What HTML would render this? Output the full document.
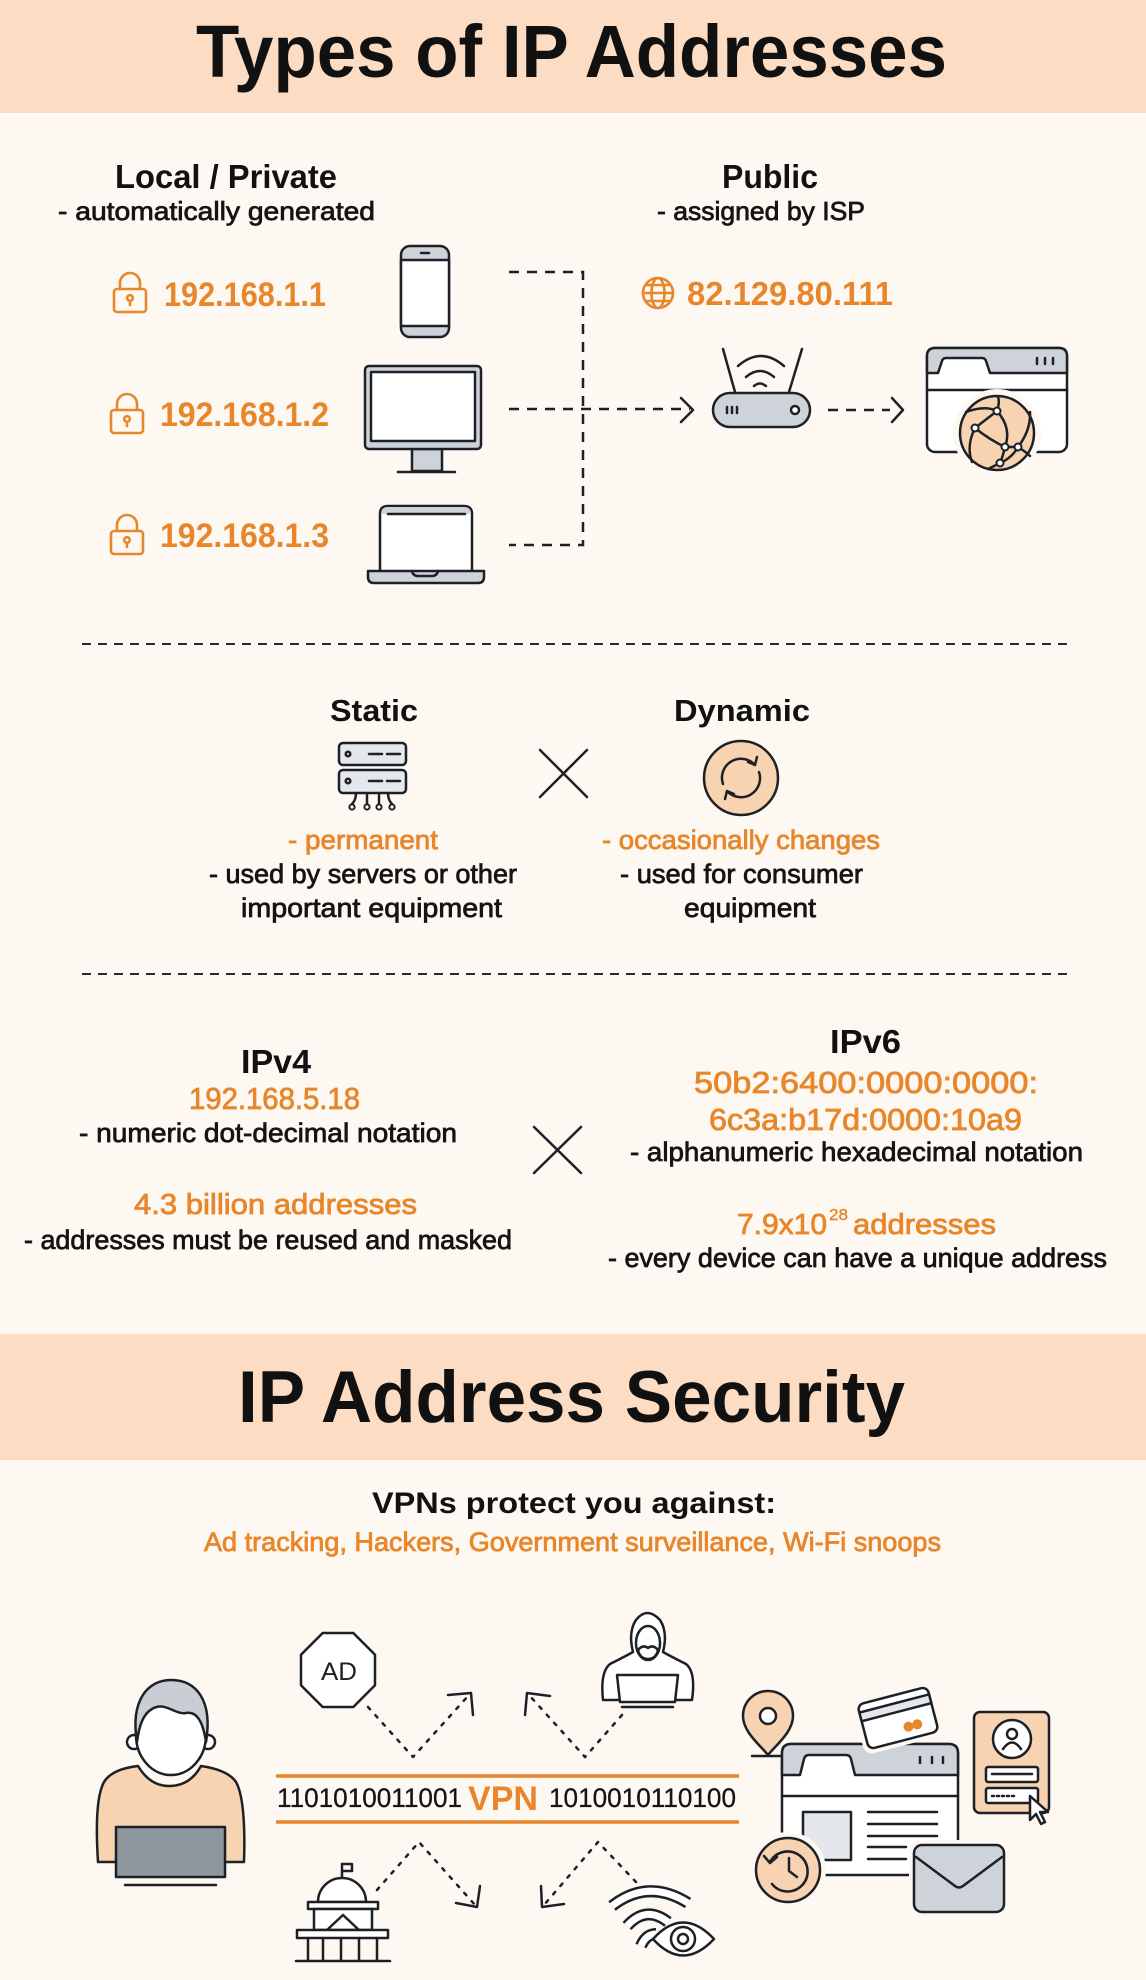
<!DOCTYPE html>
<html><head><meta charset="utf-8"><style>
html,body{margin:0;padding:0;background:#FDF8F2;}
svg{display:block;}
text{font-family:"Liberation Sans",Arial,sans-serif;}
.b{font-weight:700;fill:#111;}
.ob{font-weight:700;fill:#E8862B;}
.m{font-weight:400;fill:#141414;stroke:#141414;stroke-width:0.75;}
.om{font-weight:400;fill:#E8862B;stroke:#E8862B;stroke-width:0.8;}
.ln{fill:none;stroke:#1d2126;stroke-width:2.5;stroke-linecap:round;stroke-linejoin:round;}
.dk{stroke:#1d2126;stroke-width:2.5;stroke-linejoin:round;}
</style></head><body>
<svg width="1146" height="1980" viewBox="0 0 1146 1980" xmlns="http://www.w3.org/2000/svg">
<rect x="0" y="0" width="1146" height="1980" fill="#FDF8F2"/>
<!-- Header 1 -->
<rect x="0" y="0" width="1146" height="113" fill="#FCDCC2"/>
<text class="b" x="196" y="77" font-size="74" textLength="751" lengthAdjust="spacingAndGlyphs">Types of IP Addresses</text>

<!-- Local / Private -->
<text class="b" x="115" y="188" font-size="33" textLength="222" lengthAdjust="spacingAndGlyphs">Local / Private</text>
<text class="m" x="58" y="220" font-size="26" textLength="317" lengthAdjust="spacingAndGlyphs">- automatically generated</text>
<text class="b" x="722" y="188" font-size="33" textLength="96" lengthAdjust="spacingAndGlyphs">Public</text>
<text class="m" x="657" y="220" font-size="26" textLength="208" lengthAdjust="spacingAndGlyphs">- assigned by ISP</text>

<!-- locks -->
<g fill="none" stroke="#E8862B" stroke-width="2.6" stroke-linecap="round" stroke-linejoin="round">
 <g transform="translate(114,273)"><rect x="0" y="16" width="32" height="23" rx="3"/><path d="M6 16 V10 a10 10 0 0 1 20 0 V16"/><circle cx="16" cy="25" r="2.8"/><path d="M16 28 V32"/></g>
 <g transform="translate(111,394)"><rect x="0" y="16" width="32" height="23" rx="3"/><path d="M6 16 V10 a10 10 0 0 1 20 0 V16"/><circle cx="16" cy="25" r="2.8"/><path d="M16 28 V32"/></g>
 <g transform="translate(111,515)"><rect x="0" y="16" width="32" height="23" rx="3"/><path d="M6 16 V10 a10 10 0 0 1 20 0 V16"/><circle cx="16" cy="25" r="2.8"/><path d="M16 28 V32"/></g>
 <!-- globe small -->
 <circle cx="658" cy="293" r="15"/><ellipse cx="658" cy="293" rx="6.5" ry="15"/><path d="M643 293 H673 M646 285 H670 M646 301 H670"/>
</g>
<text class="ob" x="164" y="306" font-size="34" textLength="162" lengthAdjust="spacingAndGlyphs">192.168.1.1</text>
<text class="ob" x="160" y="426" font-size="34" textLength="169" lengthAdjust="spacingAndGlyphs">192.168.1.2</text>
<text class="ob" x="160" y="547" font-size="34" textLength="169" lengthAdjust="spacingAndGlyphs">192.168.1.3</text>
<text class="ob" x="687" y="305" font-size="33" textLength="206" lengthAdjust="spacingAndGlyphs">82.129.80.111</text>

<!-- phone -->
<rect x="401" y="246" width="48" height="91" rx="9" fill="#CED3DA" class="dk"/>
<rect x="401" y="260" width="48" height="66" fill="#fff" class="dk"/>
<path d="M421 253 H429" class="ln" stroke-width="3"/>
<!-- monitor -->
<rect x="412" y="449" width="30" height="22" fill="#CED3DA" class="dk"/>
<rect x="365" y="366" width="116" height="83" rx="4" fill="#CED3DA" class="dk"/>
<rect x="371" y="372" width="104" height="69" fill="#fff" class="dk" stroke-width="2"/>
<path d="M398 472 H455" class="ln"/>
<!-- laptop -->
<path d="M380 570 V514 Q380 506 388 506 H464 Q472 506 472 514 V570" fill="#fff" class="dk"/>
<path d="M381 514 Q381 507 388 507 H464 Q471 507 471 514 Z" fill="#CED3DA"/>
<path d="M388 514 H465" class="ln" stroke-width="2"/>
<path d="M368 571 H484 V577 Q484 583 478 583 H374 Q368 583 368 577 Z" fill="#CED3DA" class="dk"/>
<path d="M412 571 Q413 576 418 576 H432 Q437 576 438 571" class="ln" stroke-width="2"/>

<!-- connectors -->
<g fill="none" stroke="#1d2126" stroke-width="2.5">
 <path d="M509 272 H583 V545 H509" stroke-dasharray="10 8"/>
 <path d="M509 409 H690" stroke-dasharray="10 8"/>
 <path d="M828 410 H890" stroke-dasharray="10 8"/>
 <path d="M681 398 L693 410 L681 422 M892 398 L903 410 L892 422" stroke-linecap="round" stroke-linejoin="round"/>
</g>

<!-- router -->
<path d="M723 349 L735 392 M802 349 L789 392" class="ln"/>
<path d="M738 366 Q761 346 784 366 M746 377 Q760 365 774 377 M754 386 Q760 381 766 386" class="ln"/>
<rect x="713" y="393" width="97" height="34" rx="17" fill="#CED3DA" class="dk"/>
<path d="M727 407 V413 M732 407 V413 M737 407 V413" class="ln" stroke-width="2"/>
<circle cx="795" cy="410" r="4" fill="#fff" class="dk" stroke-width="2.2"/>

<!-- public browser -->
<rect x="927" y="348" width="140" height="104" rx="8" fill="#fff" class="dk"/>
<path d="M927 373 H938 L942 361 Q943 358 946 358 H982 Q985 358 986 361 L990 373 H1067 V356 Q1067 348 1059 348 H935 Q927 348 927 356 Z" fill="#CED3DA" class="dk"/>
<path d="M927 390 H1067" class="ln"/>
<path d="M1037 358 V364 M1045 358 V364 M1053 358 V364" class="ln" stroke-width="2"/>
<circle cx="997" cy="433" r="44" fill="#FDF8F2"/>
<circle cx="997" cy="433" r="37" fill="#F8D3B2" class="dk"/>
<g class="ln" stroke-width="2">
 <path d="M966 412 Q985 405 997 411 L975 428 Q990 440 1005 447 L1018 447 Q1031 430 1030 412"/>
 <path d="M997 411 Q1012 428 1005 447 Q1003 456 1000 463 L988 469"/>
 <path d="M975 428 Q966 446 972 462 M1018 447 Q1012 458 1000 463 M997 411 Q1000 402 998 397 M1018 447 Q1026 452 1030 456"/>
</g>
<g fill="#fff" stroke="#1d2126" stroke-width="2"><circle cx="997" cy="411" r="3.5"/><circle cx="975" cy="428" r="3.5"/><circle cx="1005" cy="447" r="3.5"/><circle cx="1018" cy="447" r="3.5"/><circle cx="1000" cy="463" r="3.5"/></g>

<!-- separators -->
<path d="M82 644 H1070 M82 974 H1070" stroke="#2a2a2a" stroke-width="2" stroke-dasharray="9 7" fill="none"/>

<!-- Static / Dynamic -->
<text class="b" x="330" y="721" font-size="31" textLength="88" lengthAdjust="spacingAndGlyphs">Static</text>
<text class="b" x="674" y="721" font-size="31" textLength="136" lengthAdjust="spacingAndGlyphs">Dynamic</text>
<rect x="339" y="743" width="67" height="22" rx="4" fill="#E4E7EB" class="dk"/>
<rect x="339" y="770" width="67" height="23" rx="4" fill="#E4E7EB" class="dk"/>
<circle cx="348" cy="754" r="2.3" fill="none" class="dk" stroke-width="2"/>
<circle cx="348" cy="781" r="2.3" fill="none" class="dk" stroke-width="2"/>
<path d="M369 754 H382 M387 754 H400 M369 781 H382 M387 781 H400" class="ln" stroke-width="3"/>
<path d="M356 793 Q356 800 352 804 M367 793 V804 M379 793 V804 M388 793 Q388 800 392 804" class="ln" stroke-width="2"/>
<g fill="#fff" stroke="#1d2126" stroke-width="2"><circle cx="352" cy="807" r="2.6"/><circle cx="367" cy="807" r="2.6"/><circle cx="379" cy="807" r="2.6"/><circle cx="392" cy="807" r="2.6"/></g>
<path d="M540 750 L587 797 M587 750 L540 797" class="ln" stroke-width="2.2"/>
<circle cx="741" cy="778" r="37" fill="#F8D3B2" class="dk"/>
<path d="M723 784 A19 19 0 0 1 755 765 M748 762 L755 765 L757 757 M759 772 A19 19 0 0 1 727 791 M734 794 L727 791 L725 799" class="ln" stroke-width="2.2"/>
<text class="om" x="288" y="849" font-size="27" textLength="150" lengthAdjust="spacingAndGlyphs">- permanent</text>
<text class="m" x="209" y="883" font-size="27" textLength="308" lengthAdjust="spacingAndGlyphs">- used by servers or other</text>
<text class="m" x="241" y="917" font-size="27" textLength="261" lengthAdjust="spacingAndGlyphs">important equipment</text>
<text class="om" x="602" y="849" font-size="27" textLength="278" lengthAdjust="spacingAndGlyphs">- occasionally changes</text>
<text class="m" x="620" y="883" font-size="27" textLength="243" lengthAdjust="spacingAndGlyphs">- used for consumer</text>
<text class="m" x="684" y="917" font-size="27" textLength="132" lengthAdjust="spacingAndGlyphs">equipment</text>

<!-- IPv4 / IPv6 -->
<text class="b" x="241" y="1073" font-size="33" textLength="70" lengthAdjust="spacingAndGlyphs">IPv4</text>
<text class="om" x="189" y="1109" font-size="31" textLength="171" lengthAdjust="spacingAndGlyphs">192.168.5.18</text>
<text class="m" x="79" y="1142" font-size="27" textLength="378" lengthAdjust="spacingAndGlyphs">- numeric dot-decimal notation</text>
<text class="om" x="134" y="1214" font-size="29" textLength="283" lengthAdjust="spacingAndGlyphs">4.3 billion addresses</text>
<text class="m" x="24" y="1249" font-size="27" textLength="488" lengthAdjust="spacingAndGlyphs">- addresses must be reused and masked</text>
<path d="M534 1127 L581 1173 M581 1127 L534 1173" class="ln" stroke-width="2.2"/>
<text class="b" x="830" y="1053" font-size="33" textLength="71" lengthAdjust="spacingAndGlyphs">IPv6</text>
<text class="om" x="694" y="1093" font-size="31" textLength="344" lengthAdjust="spacingAndGlyphs">50b2:6400:0000:0000:</text>
<text class="om" x="709" y="1130" font-size="31" textLength="313" lengthAdjust="spacingAndGlyphs">6c3a:b17d:0000:10a9</text>
<text class="m" x="630" y="1161" font-size="27" textLength="453" lengthAdjust="spacingAndGlyphs">- alphanumeric hexadecimal notation</text>
<text class="om" x="737" y="1234" font-size="29" textLength="90" lengthAdjust="spacingAndGlyphs">7.9x10</text>
<text class="om" x="829" y="1220" font-size="16" textLength="19" lengthAdjust="spacingAndGlyphs" style="stroke-width:0.4">28</text>
<text class="om" x="853" y="1234" font-size="29" textLength="143" lengthAdjust="spacingAndGlyphs">addresses</text>
<text class="m" x="608" y="1267" font-size="27" textLength="499" lengthAdjust="spacingAndGlyphs">- every device can have a unique address</text>

<!-- Header 2 -->
<rect x="0" y="1334" width="1146" height="126" fill="#FCDCC2"/>
<text class="b" x="238" y="1422" font-size="73" textLength="667" lengthAdjust="spacingAndGlyphs">IP Address Security</text>
<text class="b" x="372" y="1513" font-size="30" textLength="404" lengthAdjust="spacingAndGlyphs">VPNs protect you against:</text>
<text class="om" x="204" y="1551" font-size="27" textLength="737" lengthAdjust="spacingAndGlyphs">Ad tracking, Hackers, Government surveillance, Wi-Fi snoops</text>

<!-- VPN band -->
<path d="M276 1776 H739 M276 1822 H739" stroke="#E8862B" stroke-width="3.5"/>
<text class="m" x="277" y="1807" font-size="27" textLength="185" lengthAdjust="spacingAndGlyphs" style="stroke-width:0.3">1101010011001</text>
<text class="ob" x="468" y="1810" font-size="34" textLength="70" lengthAdjust="spacingAndGlyphs">VPN</text>
<text class="m" x="549" y="1807" font-size="27" textLength="187" lengthAdjust="spacingAndGlyphs" style="stroke-width:0.3">1010010110100</text>

<!-- person -->
<path d="M98 1862 Q94 1800 104 1782 Q112 1769 138 1766 Q150 1786 169 1786 Q190 1786 201 1766 Q228 1770 236 1782 Q246 1800 244 1862 Z" fill="#F8D3B2" class="dk"/>
<circle cx="134" cy="1742" r="7" fill="#fff" class="dk"/>
<circle cx="208" cy="1742" r="7" fill="#fff" class="dk"/>
<ellipse cx="171" cy="1735" rx="35" ry="40" fill="#fff" class="dk"/>
<path d="M137 1742 C130 1700 148 1680 171 1680 C196 1680 213 1700 206 1742 C203 1722 197 1711 186 1713 C175 1715 165 1701 152 1709 C143 1714 139 1726 137 1742 Z" fill="#C9CED5" class="dk"/>
<rect x="116" y="1827" width="109" height="50" fill="#8E969E" class="dk"/>
<path d="M125 1885 H216" class="ln" stroke-width="3"/>

<!-- AD -->
<polygon points="322.7,1633 353.3,1633 375,1654.7 375,1685.3 353.3,1707 322.7,1707 301,1685.3 301,1654.7" fill="#fff" class="dk"/>
<text x="321" y="1680" font-size="25" textLength="36" lengthAdjust="spacingAndGlyphs" fill="#1d2126">AD</text>

<!-- hacker -->
<path d="M603 1700 Q600 1672 610 1664 Q624 1657 633 1652 Q628 1632 636 1620 Q647 1606 660 1620 Q668 1632 663 1652 Q672 1657 686 1664 Q696 1672 692 1700 Z" fill="#fff" class="dk"/>
<ellipse cx="648" cy="1643" rx="12" ry="17" fill="#fff" class="dk"/>
<path d="M638 1650 Q643 1644 648 1648 Q653 1644 658 1650 Q656 1659 648 1659 Q640 1659 638 1650 Z" fill="#fff" class="dk" stroke-width="2"/>
<path d="M617 1675 H678 L675 1702 H620 Z" fill="#fff" class="dk"/>
<path d="M622 1707 H673" class="ln"/>

<!-- dashed arrows -->
<g fill="none" stroke="#1d2126" stroke-width="2.5" stroke-linecap="round" stroke-linejoin="round">
 <path d="M368 1707 L413 1757 L469 1695 M622 1715 L585 1757 L529 1695 M377 1890 L419 1842 L475 1905 M636 1882 L598 1842 L544 1905" stroke-dasharray="3 8"/>
 <path d="M448 1695 L471 1693 L473 1715 M550 1696 L527 1693 L525 1715 M456 1903 L477 1907 L480 1886 M564 1904 L542 1907 L541 1886"/>
</g>

<!-- government building -->
<path d="M342 1880 V1864 M342 1864 H352 V1871 H342" class="ln" stroke-width="2"/>
<path d="M318 1902 A24 24 0 0 1 366 1902 Z" fill="#fff" class="dk"/>
<rect x="308" y="1902" width="70" height="7" fill="#fff" class="dk"/>
<rect x="314" y="1909" width="58" height="21" fill="#fff" class="dk"/>
<path d="M327 1930 L343 1915 L359 1930" class="ln"/>
<rect x="297" y="1930" width="91" height="8" fill="#fff" class="dk"/>
<path d="M308 1938 V1960 M323 1938 V1960 M341 1938 V1960 M359 1938 V1960 M377 1938 V1960 M296 1961 H390" class="ln"/>

<!-- wifi eye -->
<g fill="none" stroke-linecap="butt">
 <path d="M612 1906 Q648 1878 688 1903" stroke="#1d2126" stroke-width="12"/>
 <path d="M612 1906 Q648 1878 688 1903" stroke="#fff" stroke-width="7"/>
 <path d="M627 1926 Q646 1905 668 1922" stroke="#1d2126" stroke-width="12"/>
 <path d="M627 1926 Q646 1905 668 1922" stroke="#fff" stroke-width="7"/>
 <path d="M641 1946 Q646 1934 656 1934" stroke="#1d2126" stroke-width="12"/>
 <path d="M641 1946 Q646 1934 656 1934" stroke="#fff" stroke-width="7"/>
</g>
<path d="M653 1939 Q683 1906 714 1939 Q683 1972 653 1939 Z" fill="#fff" class="dk"/>
<circle cx="683" cy="1939" r="12" fill="#fff" class="dk"/>
<circle cx="683" cy="1939" r="5" fill="#fff" class="dk" stroke-width="2"/>

<!-- right cluster -->
<path d="M768 1691 C754 1691 743 1702 743 1716 C743 1732 760 1745 768 1755 C776 1745 793 1732 793 1716 C793 1702 782 1691 768 1691 Z" fill="#F8D3B2" class="dk"/>
<circle cx="768" cy="1716" r="8" fill="#fff" class="dk"/>
<path d="M752 1756 H783" class="ln"/>
<rect x="782" y="1744" width="176" height="131" rx="9" fill="#fff" class="dk"/>
<path d="M782 1775 H800 L804 1759 Q805 1755 809 1755 H846 Q850 1755 851 1759 L855 1775 H958 V1753 Q958 1744 949 1744 H791 Q782 1744 782 1753 Z" fill="#CED3DA" class="dk"/>
<path d="M782 1796 H958" class="ln"/>
<path d="M920 1757 V1763 M932 1757 V1763 M943 1757 V1763" class="ln" stroke-width="2"/>
<rect x="803" y="1812" width="48" height="48" fill="#E4E7EB" class="dk"/>
<path d="M868 1812 H937 M868 1824 H937 M868 1836 H937 M868 1847 H906 M868 1859 H906" class="ln"/>
<circle cx="788" cy="1870" r="38" fill="#FDF8F2"/>
<circle cx="788" cy="1870" r="32" fill="#F8D3B2" class="dk"/>
<path d="M770 1862 A20 20 0 1 1 772 1884 M764 1856 L770 1863 L777 1857 M789 1858 V1871 L797 1877" class="ln" stroke-width="2.2"/>
<rect x="909" y="1840" width="100" height="77" rx="11" fill="#FDF8F2"/>
<rect x="914" y="1845" width="90" height="67" rx="8" fill="#CED3DA" class="dk"/>
<path d="M916 1857 L955 1886 Q959 1889 963 1886 L1002 1857" class="ln"/>
<g transform="rotate(-14.6 898 1718)">
 <rect x="857" y="1690" width="82" height="56" rx="9" fill="#FDF8F2"/>
 <rect x="862" y="1695" width="72" height="46" rx="6" fill="#fff" class="dk"/>
 <rect x="862" y="1703" width="72" height="9" fill="#E4E7EB" class="dk" stroke-width="2"/>
 <circle cx="906" cy="1729" r="5" fill="#E8862B"/>
 <circle cx="915" cy="1729" r="5" fill="#E8862B"/>
</g>
<rect x="974" y="1712" width="75" height="101" rx="6" fill="#F8D3B2" class="dk"/>
<circle cx="1012" cy="1739" r="19" fill="#fff" class="dk"/>
<circle cx="1012" cy="1734" r="5" fill="none" class="dk" stroke-width="2"/>
<path d="M1003 1749 Q1012 1736 1021 1749" class="ln" stroke-width="2"/>
<rect x="986" y="1767" width="52" height="15" rx="2" fill="#fff" class="dk"/>
<path d="M992 1774 H1032" class="ln" stroke-width="2"/>
<rect x="986" y="1788" width="52" height="15" rx="2" fill="#fff" class="dk"/>
<path d="M992 1796 H994 M997 1796 H999 M1002 1796 H1004 M1007 1796 H1009 M1012 1796 H1014" class="ln" stroke-width="2.5"/>
<path d="M1030 1796 L1030 1820 L1036 1814 L1041 1824 L1045 1822 L1040 1812 L1048 1812 Z" fill="#fff" class="dk" stroke-width="2"/>
</svg>
</body></html>
